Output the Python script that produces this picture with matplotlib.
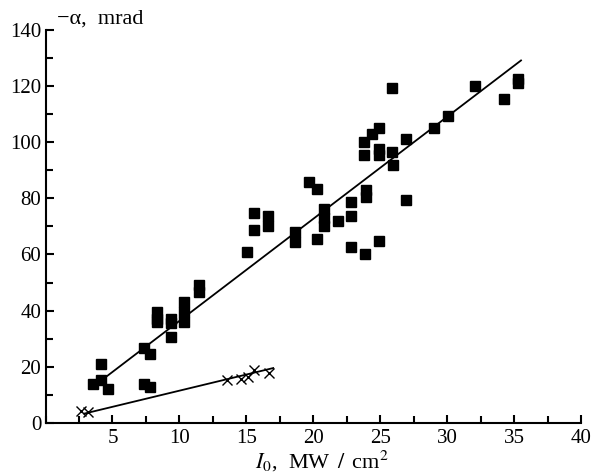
import matplotlib
matplotlib.use("Agg")
import matplotlib.pyplot as plt
from matplotlib.ticker import MultipleLocator

plt.rcParams["font.family"] = ["Liberation Serif", "DejaVu Serif"]
plt.rcParams["mathtext.fontset"] = "stix"

# squares: -alpha vs I0
sq_x = [3.58, 4.14, 4.14, 4.63, 7.34, 7.78, 7.34, 7.78, 8.33, 8.33, 8.33,
        9.4, 9.4, 9.4, 10.37, 10.37, 10.37, 11.45, 11.45,
        15.03, 15.57, 15.57, 16.6, 16.6, 18.65, 18.65, 19.68, 20.24, 20.24,
        20.8, 20.8, 20.8, 21.8, 22.82, 22.82, 22.82,
        23.8, 24.35, 24.87, 24.87, 24.87, 23.8, 25.9, 25.97, 23.9, 23.9,
        26.95, 26.95, 23.86, 24.87, 25.9, 29.0, 30.07, 32.1, 34.2, 35.24, 35.24]
sq_y = [14.1, 21.2, 15.3, 12.3, 26.8, 24.5, 14.1, 12.9, 39.5, 37.0, 36.0,
        37.2, 35.5, 30.8, 43.0, 39.5, 35.9, 49.0, 46.5,
        61.0, 74.7, 68.7, 73.5, 70.2, 68.1, 64.6, 85.8, 83.2, 65.5,
        76.0, 73.0, 70.0, 72.0, 78.8, 73.8, 62.8,
        100.1, 102.7, 105.1, 97.5, 95.5, 95.3, 96.6, 91.7, 83.0, 80.5,
        101.0, 79.3, 60.2, 64.7, 119.3, 105.1, 109.2, 119.9, 115.4, 122.3, 120.8]
sq_fit_x = [4.5, 35.5]
sq_fit_y = [16.4, 129.0]

# crosses
cr_x = [2.62, 3.16, 13.55, 14.6, 15.1, 15.57, 16.65]
cr_y = [4.4, 4.0, 15.4, 15.6, 16.4, 18.8, 17.8]
cr_fit_x = [2.9, 17.0]
cr_fit_y = [3.4, 19.6]

fig = plt.figure(figsize=(5.94, 4.76), dpi=100)
ax = fig.add_axes([0.0766, 0.111, 0.902, 0.827])

ax.plot(sq_x, sq_y, "s", color="black", markersize=6.5, linestyle="none")
ax.plot(sq_fit_x, sq_fit_y, "-", color="black", linewidth=1.3)
ax.plot(cr_x, cr_y, "x", color="black", markersize=7, markeredgewidth=1.0,
        linestyle="none")
ax.plot(cr_fit_x, cr_fit_y, "-", color="black", linewidth=1.3)

ax.set_xlim(0, 40)
ax.set_ylim(0, 140)
ax.xaxis.set_minor_locator(MultipleLocator(2.5))
ax.yaxis.set_minor_locator(MultipleLocator(10))
ax.set_xticks([5, 10, 15, 20, 25, 30, 35, 40])
ax.set_yticks([0, 20, 40, 60, 80, 100, 120, 140])

for s in ["top", "right"]:
    ax.spines[s].set_visible(False)
for s in ["left", "bottom"]:
    ax.spines[s].set_linewidth(1.5)

ax.tick_params(which="both", direction="in", width=1.5, labelsize=15)
ax.tick_params(which="major", length=6)
ax.tick_params(which="minor", length=5)
ax.tick_params(axis="x", pad=4)
ax.tick_params(axis="y", pad=3)

ax.text(0.021, 1.026, "\u2212\u03b1,  mrad", transform=ax.transAxes,
        fontsize=16, ha="left", va="center")
ax.set_xlabel(r"$I_0$,  MW $\,/\,$ cm$^2$", fontsize=16)
ax.xaxis.set_label_coords(0.516, -0.066)

fig.savefig("out.png", dpi=100)
plt.close()
